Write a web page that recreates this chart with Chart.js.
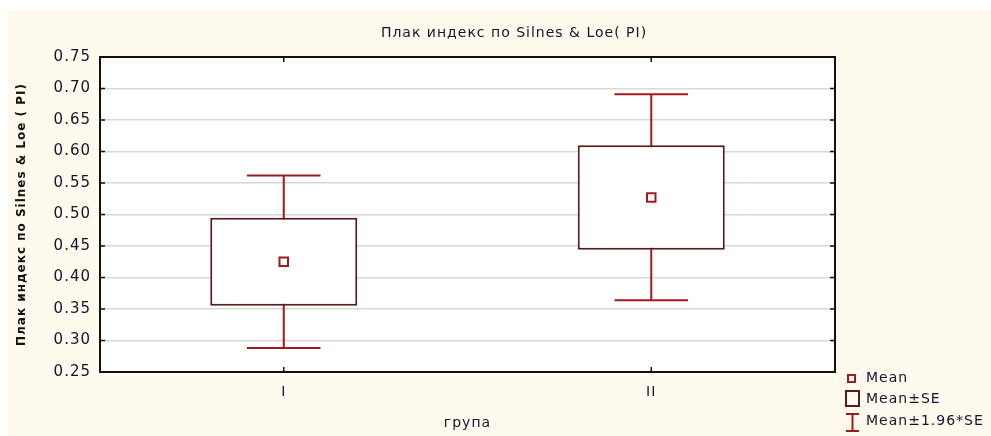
<!DOCTYPE html>
<html>
<head>
<meta charset="utf-8">
<script src="https://cdn.jsdelivr.net/npm/chart.js@4.4.1/dist/chart.umd.min.js"></script>
<style>
  body { margin: 0; background: #fff; }
  #wrap { width: 991px; height: 436px; }
</style>
</head>
<body>
<div id="wrap"><canvas id="myChart"></canvas></div>
<script>
// données
const groups = ['I', 'II'];
const means = [0.425, 0.527];
const seLow = [0.355, 0.444];
const seHigh = [0.495, 0.610];
const ciLow = [0.288, 0.364];
const ciHigh = [0.562, 0.691];
const yTickValues = [0.25, 0.30, 0.35, 0.40, 0.45, 0.50, 0.55, 0.60, 0.65, 0.70, 0.75];

const titleText = 'Плак индекс по Silnes & Loe( PI)';
const yTitle = 'Плак индекс по Silnes & Loe ( PI)';
const xTitle = 'група';
const legendLabels = ['Mean', 'Mean±SE', 'Mean±1.96*SE'];

const boxColor = '#5a1a1a';
const redColor = '#a01b1b';
const textColor = '#14142a';
const fontFam = '"DejaVu Sans", Arial, sans-serif';

const decor = {
  id: 'decor',
  beforeDraw(chart) {
    const ctx = chart.ctx, a = chart.chartArea;
    ctx.save();
    ctx.fillStyle = '#fff9ee';
    ctx.fillRect(8, 10, chart.width - 8, chart.height - 10);
    ctx.fillStyle = '#fff';
    ctx.fillRect(a.left, a.top, a.right - a.left, a.bottom - a.top);
    ctx.restore();
    ctx.letterSpacing = '1px';
  },
  beforeDatasetsDraw(chart) {
    // moustaches Mean±1.96*SE
    const ctx = chart.ctx, a = chart.chartArea;
    const xs = chart.scales.x, ys = chart.scales.y;
    const half = (a.right - a.left) / groups.length * 0.1;
    ctx.save();
    ctx.strokeStyle = redColor;
    ctx.lineWidth = 2;
    groups.forEach((g, i) => {
      const x = xs.getPixelForValue(i);
      const yHi = ys.getPixelForValue(ciHigh[i]);
      const yLo = ys.getPixelForValue(ciLow[i]);
      ctx.beginPath();
      ctx.moveTo(x, yHi); ctx.lineTo(x, yLo);
      ctx.moveTo(x - half, yHi); ctx.lineTo(x + half, yHi);
      ctx.moveTo(x - half, yLo); ctx.lineTo(x + half, yLo);
      ctx.stroke();
    });
    ctx.restore();
  },
  afterDraw(chart) {
    const ctx = chart.ctx, a = chart.chartArea;
    const xs = chart.scales.x, ys = chart.scales.y;
    ctx.save();
    // cadre + petits traits vers l'intérieur
    ctx.strokeStyle = '#111';
    ctx.lineWidth = 2;
    ctx.strokeRect(a.left, a.top, a.right - a.left, a.bottom - a.top);
    ctx.lineWidth = 1.5;
    ctx.beginPath();
    yTickValues.forEach(v => {
      const y = ys.getPixelForValue(v);
      ctx.moveTo(a.left, y); ctx.lineTo(a.left + 5, y);
      ctx.moveTo(a.right - 5, y); ctx.lineTo(a.right, y);
    });
    groups.forEach((g, i) => {
      const x = xs.getPixelForValue(i);
      ctx.moveTo(x, a.bottom); ctx.lineTo(x, a.bottom - 5);
      ctx.moveTo(x, a.top); ctx.lineTo(x, a.top + 5);
    });
    ctx.stroke();

    // titre
    ctx.fillStyle = textColor;
    ctx.font = '14px ' + fontFam;
    ctx.textAlign = 'center';
    ctx.textBaseline = 'middle';
    ctx.fillText(titleText, 514, 33);

    // légende
    ctx.font = '14px ' + fontFam;
    ctx.textAlign = 'left';
    ctx.fillText(legendLabels[0], 866, 378);
    ctx.fillText(legendLabels[1], 866, 399);
    ctx.fillText(legendLabels[2], 866, 421);
    ctx.strokeStyle = redColor;
    ctx.lineWidth = 2;
    ctx.fillStyle = '#fff';
    ctx.fillRect(848, 375, 7, 7);
    ctx.strokeRect(848, 375, 7, 7);
    ctx.strokeStyle = boxColor;
    ctx.strokeRect(846, 391, 13, 15);
    ctx.strokeStyle = redColor;
    ctx.beginPath();
    ctx.moveTo(846, 414); ctx.lineTo(859, 414);
    ctx.moveTo(852.5, 414); ctx.lineTo(852.5, 431);
    ctx.moveTo(846, 431); ctx.lineTo(859, 431);
    ctx.stroke();
    ctx.restore();
  }
};

new Chart(document.getElementById('myChart'), {
  data: {
    labels: groups,
    datasets: [
      {
        type: 'bar',
        label: legendLabels[1],
        data: groups.map((g, i) => [seLow[i], seHigh[i]]),
        backgroundColor: '#fff',
        borderColor: boxColor,
        borderWidth: 2,
        borderSkipped: false,
        barPercentage: 0.4,
        categoryPercentage: 1.0,
        order: 2
      },
      {
        type: 'line',
        label: legendLabels[0],
        data: means,
        showLine: false,
        pointStyle: 'rect',
        pointRadius: 6,
        pointHoverRadius: 6,
        pointBorderWidth: 2,
        pointBorderColor: redColor,
        pointBackgroundColor: '#fff',
        order: 1
      }
    ]
  },
  options: {
    responsive: true,
    maintainAspectRatio: false,
    animation: false,
    layout: { padding: { left: 0, right: 156, top: 57, bottom: 0 } },
    plugins: {
      legend: { display: false },
      tooltip: { enabled: false },
      title: { display: false }
    },
    scales: {
      x: {
        offset: true,
        grid: { display: false, drawTicks: false },
        border: { display: false },
        ticks: { color: textColor, font: { family: fontFam, size: 14 }, padding: 12 },
        title: { display: true, text: xTitle, color: textColor, font: { family: fontFam, size: 14 }, padding: { top: 0, bottom: 4 } },
        afterFit: s => { s.height = 64; }
      },
      y: {
        min: 0.25,
        max: 0.75,
        afterBuildTicks: s => { s.ticks = yTickValues.map(v => ({ value: v })); },
        grid: { color: '#d8d8d8', lineWidth: 1.5, drawTicks: false },
        border: { display: false },
        ticks: {
          color: textColor,
          font: { family: fontFam, size: 15 },
          padding: 9,
          callback: v => v.toFixed(2)
        },
        title: { display: true, text: yTitle, color: '#111', font: { family: fontFam, size: 12, weight: 'bold' }, padding: { top: 15, bottom: 0 } },
        afterFit: s => { s.width = 100; }
      }
    }
  },
  plugins: [decor]
});
</script>
</body>
</html>
